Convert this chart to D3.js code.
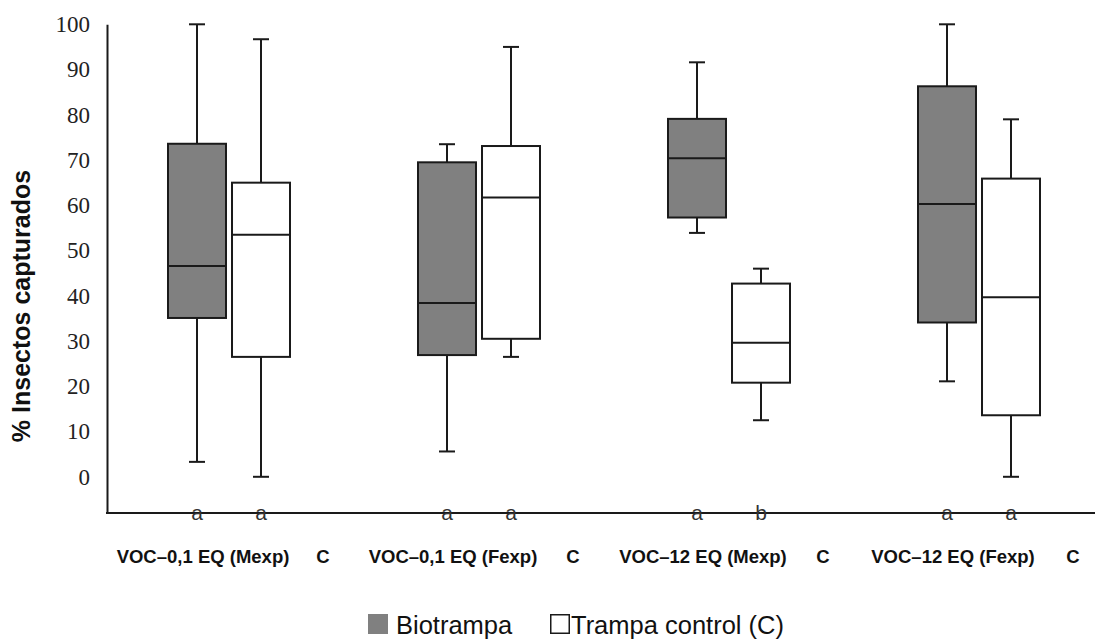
<!DOCTYPE html>
<html>
<head>
<meta charset="utf-8">
<script src="https://cdn.jsdelivr.net/npm/d3@7/dist/d3.min.js"></script>
<style>
  html, body { margin: 0; padding: 0; background: #fff; }
  svg { display: block; }
</style>
</head>
<body>
<svg id="chart" width="1095" height="641"></svg>
<script>
// Treatment groups and the two trap types
const groups = ["VOC–0,1 EQ (Mexp)", "VOC–0,1 EQ (Fexp)", "VOC–12 EQ (Mexp)", "VOC–12 EQ (Fexp)"];
const series = ["Biotrampa", "Trampa control (C)"];
const controlLabel = "C";

// Five-number summaries (% insects captured)
const bioMin = [3.3, 5.6, 53.9, 21.1];
const bioQ1  = [35.1, 26.9, 57.3, 34.1];
const bioMed = [46.6, 38.4, 70.4, 60.3];
const bioQ3  = [73.6, 69.5, 79.1, 86.3];
const bioMax = [100, 73.5, 91.6, 100];

const ctlMin = [0, 26.5, 12.5, 0];
const ctlQ1  = [26.5, 30.5, 20.8, 13.6];
const ctlMed = [53.5, 61.7, 29.6, 39.7];
const ctlQ3  = [65.0, 73.1, 42.7, 65.9];
const ctlMax = [96.7, 95.0, 46.0, 79.0];

// Significance letters
const bioLetters = ["a", "a", "a", "a"];
const ctlLetters = ["a", "a", "b", "a"];

const yTicks = [0, 10, 20, 30, 40, 50, 60, 70, 80, 90, 100];
const yMin = -8, yMax = 100;

const fills = ["#808080", "#ffffff"];
const ink = "#1a1a1a";
const sans = "'Liberation Sans', Arial, sans-serif";

const svg = d3.select("#chart");

const y = d3.scaleLinear().domain([yMin, yMax]).range([513, 24.3]);
const x = d3.scaleBand().domain(groups).range([107, 1107]);
const xs = d3.scaleBand().domain(series).range([61, 183]).paddingInner(0.094);

const boxes = [];
groups.forEach((g, i) => {
  boxes.push({ g, s: series[0], min: bioMin[i], q1: bioQ1[i], med: bioMed[i], q3: bioQ3[i], max: bioMax[i], letter: bioLetters[i] });
  boxes.push({ g, s: series[1], min: ctlMin[i], q1: ctlQ1[i], med: ctlMed[i], q3: ctlQ3[i], max: ctlMax[i], letter: ctlLetters[i] });
});

// Y axis
const yAxis = d3.axisLeft(y).tickValues(yTicks).tickSize(0).tickSizeOuter(0).tickPadding(17);
const yg = svg.append("g").attr("transform", "translate(107,0)").call(yAxis);
yg.select(".domain").attr("stroke", ink).attr("stroke-width", 2);
yg.selectAll(".tick text")
  .attr("font-family", "'Liberation Serif', 'Times New Roman', serif")
  .attr("font-size", 23)
  .attr("fill", "#222");

// X axis baseline
svg.append("line")
  .attr("x1", x.range()[0] - 1).attr("x2", 1095)
  .attr("y1", y(yMin)).attr("y2", y(yMin))
  .attr("stroke", ink).attr("stroke-width", 2);

// Y axis title
svg.append("text")
  .attr("transform", "translate(30,306) rotate(-90)")
  .attr("text-anchor", "middle")
  .attr("font-family", sans)
  .attr("font-weight", "bold")
  .attr("font-size", 25)
  .attr("fill", "#111")
  .text("% Insectos capturados");

// Box plots
const bw = xs.bandwidth();
const cap = 16;
const bx = svg.append("g");
boxes.forEach(d => {
  const left = x(d.g) + xs(d.s);
  const cx = left + bw / 2;
  const g = bx.append("g").attr("stroke", ink).attr("stroke-width", 2);
  // whiskers and caps
  g.append("line").attr("x1", cx).attr("x2", cx).attr("y1", y(d.max)).attr("y2", y(d.q3));
  g.append("line").attr("x1", cx).attr("x2", cx).attr("y1", y(d.q1)).attr("y2", y(d.min));
  g.append("line").attr("x1", cx - cap / 2).attr("x2", cx + cap / 2).attr("y1", y(d.max)).attr("y2", y(d.max));
  g.append("line").attr("x1", cx - cap / 2).attr("x2", cx + cap / 2).attr("y1", y(d.min)).attr("y2", y(d.min));
  // interquartile box
  g.append("rect")
    .attr("x", left).attr("width", bw)
    .attr("y", y(d.q3)).attr("height", y(d.q1) - y(d.q3))
    .attr("fill", fills[series.indexOf(d.s)]);
  // median
  g.append("line").attr("x1", left).attr("x2", left + bw).attr("y1", y(d.med)).attr("y2", y(d.med));
  // significance letter
  svg.append("text")
    .attr("x", cx).attr("y", 520)
    .attr("text-anchor", "middle")
    .attr("font-family", sans)
    .attr("font-size", 21)
    .attr("fill", "#333")
    .text(d.letter);
});

// Category labels
const lab = svg.append("g")
  .attr("font-family", sans)
  .attr("font-weight", "bold")
  .attr("font-size", 18.5)
  .attr("fill", "#111");
groups.forEach(g => {
  lab.append("text").attr("x", x(g) + 96).attr("y", 563).attr("text-anchor", "middle").text(g);
  lab.append("text").attr("x", x(g) + 216).attr("y", 563).attr("text-anchor", "middle").text(controlLabel);
});

// Legend
const leg = svg.append("g");
const legX = [368, 550];
series.forEach((s, i) => {
  leg.append("rect")
    .attr("x", legX[i] + (i ? 0.75 : 0)).attr("y", 614 + (i ? 0.75 : 0))
    .attr("width", i ? 18.5 : 20).attr("height", i ? 18.5 : 20)
    .attr("fill", fills[i])
    .attr("stroke", i ? ink : "none").attr("stroke-width", i ? 1.5 : 0);
  leg.append("text")
    .attr("x", legX[i] + (i ? 21 : 28)).attr("y", 634)
    .attr("font-family", sans)
    .attr("font-size", 25.5)
    .attr("fill", "#111")
    .text(s);
});
</script>
</body>
</html>
